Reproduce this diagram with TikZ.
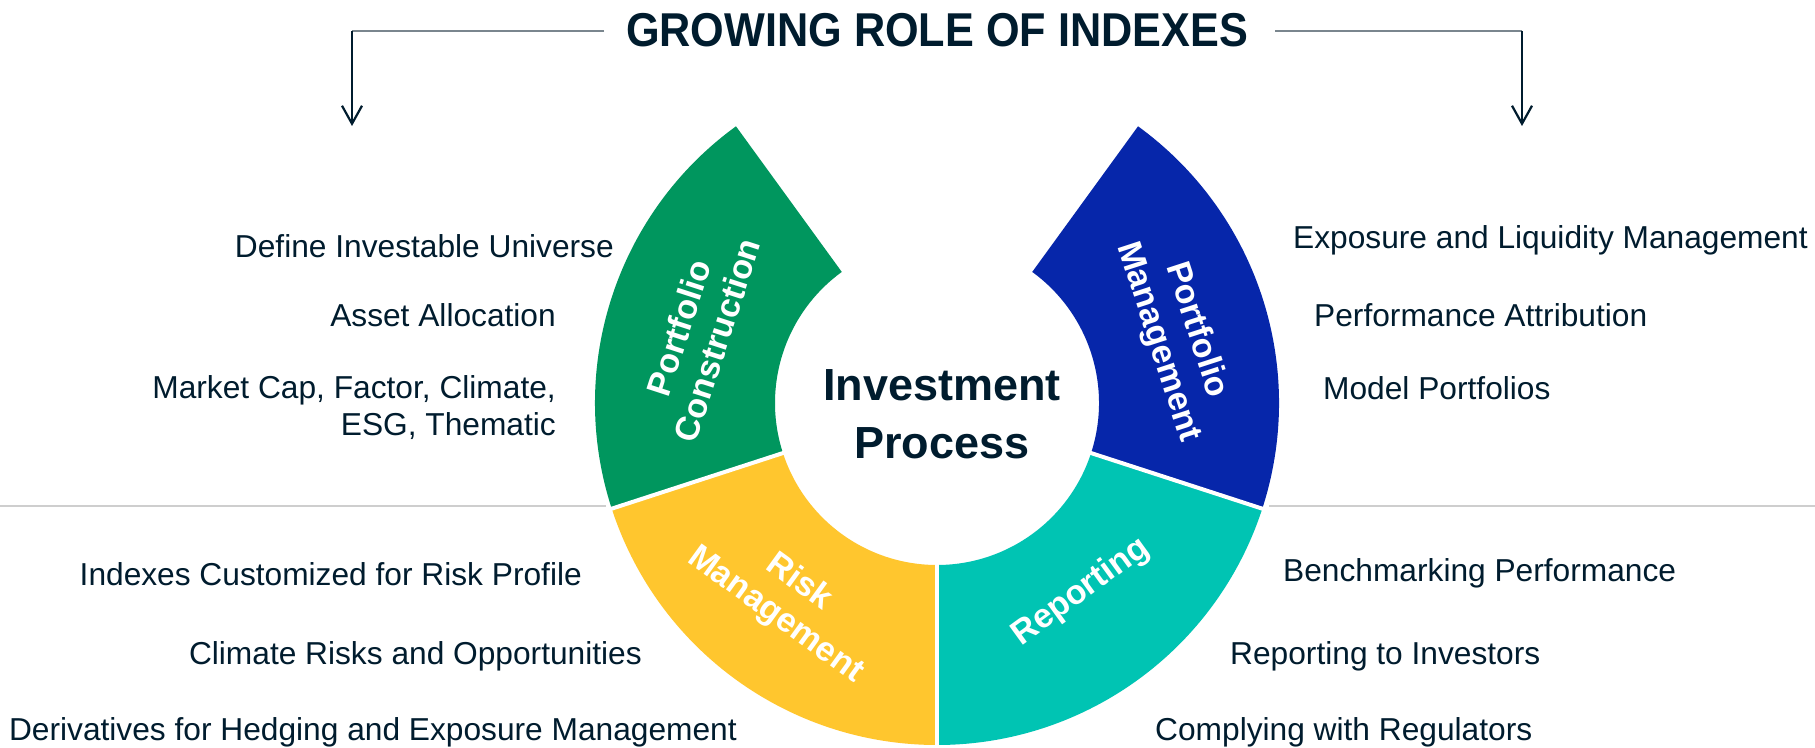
\documentclass[tikz,border=0pt]{standalone}
\usepackage{fontspec}
\usepackage{graphicx}
\setmainfont{Liberation Sans}
\usetikzlibrary{arrows.meta}
\definecolor{navy}{RGB}{0,28,46}
\definecolor{pcgreen}{RGB}{0,150,94}
\definecolor{rmyellow}{RGB}{255,198,46}
\definecolor{rpteal}{RGB}{0,196,179}
\definecolor{pmblue}{RGB}{6,38,170}
\definecolor{brgray}{RGB}{122,134,142}
\definecolor{sepgray}{RGB}{206,206,206}
\newcommand\ringseg[3]{\fill[#1] ([shift={(#2:162pt)}]C) arc[start angle=#2,end angle=#3,radius=162pt] -- ([shift={(#3:342pt)}]C) arc[start angle=#3,end angle=#2,radius=342pt] -- cycle;}
\newcommand\ringcut[1]{\draw[white,line width=4pt] ([shift={(#1:158pt)}]C) -- ([shift={(#1:346pt)}]C);}
\begin{document}
\begin{tikzpicture}[x=1pt,y=1pt,
  item/.style={font=\fontsize{31.7}{38}\selectfont, text=navy, inner sep=0pt},
  litem/.style={item, anchor=base east},
  ritem/.style={item, anchor=base west},
  seglabel/.style={font=\bfseries\fontsize{34}{40}\selectfont, text=white, align=center, inner sep=0pt},
  bracket/.style={draw=brgray, line width=2.5pt},
  downarrow/.style={draw=navy, line width=2.2pt, -{Straight Barb[length=18pt,width=20pt]}},
  sepline/.style={draw=sepgray, line width=2pt}]
\useasboundingbox (0,0) rectangle (1815,747);
\fill[white] (0,0) rectangle (1815,747);

% title and bracket
\node[font=\bfseries\fontsize{47.5}{50}\selectfont, text=navy, anchor=base, inner sep=0pt] (title) at (937,700) {\scalebox{0.91}[1]{GROWING ROLE OF INDEXES}};
\coordinate (lc) at (352,716);
\coordinate (le) at (604,716);
\coordinate (lt) at (352,621);
\coordinate (rc) at (1522,716);
\coordinate (re) at (1275,716);
\coordinate (rt) at (1522,621);
\draw[bracket] (le) -- (lc);
\draw[bracket] (re) -- (rc);
\draw[downarrow] (lc) -- (lt);
\draw[downarrow] (rc) -- (rt);

% separators
\coordinate (sl0) at (0,241);
\coordinate (sl1) at (606,241);
\coordinate (sr0) at (1269,241);
\coordinate (sr1) at (1815,241);
\draw[sepline] (sl0) -- (sl1);
\draw[sepline] (sr0) -- (sr1);

% ring
\coordinate (C) at (937,344);
\ringseg{pcgreen}{126}{198}
\ringseg{rmyellow}{198}{270}
\ringseg{rpteal}{270}{342}
\ringseg{pmblue}{-18}{54}
\ringcut{198}
\ringcut{270}
\ringcut{342}

\node[seglabel, rotate=72] (pc) at (698,413) {Portfolio\\Construction};
\node[seglabel, rotate=-72] (pm) at (1177,411) {Portfolio\\Management};
\node[seglabel, rotate=-36] (rm) at (787,148) {Risk\\Management};
\node[seglabel, rotate=36] (rp) at (1081,155) {Reporting};

\node[font=\bfseries\fontsize{45}{58}\selectfont, text=navy, align=center, inner sep=0pt] (ip) at (942,332.5) {Investment\\Process};

% left items
\node[litem] (t1) at (614,489) {Define Investable Universe};
\node[litem] (t2) at (556,420) {Asset Allocation};
\node[litem] (t3) at (556,348) {Market Cap, Factor, Climate,};
\node[litem] (t4) at (556,311) {ESG, Thematic};
\node[litem] (t5) at (582,161) {Indexes Customized for Risk Profile};
\node[litem] (t6) at (642,82) {Climate Risks and Opportunities};
\node[litem] (t7) at (737,7) {Derivatives for Hedging and Exposure Management};

% right items
\node[ritem] (u1) at (1293,498) {Exposure and Liquidity Management};
\node[ritem] (u2) at (1314,420) {Performance Attribution};
\node[ritem] (u3) at (1323,347) {Model Portfolios};
\node[ritem] (u4) at (1283,165) {Benchmarking Performance};
\node[ritem] (u5) at (1230,82) {Reporting to Investors};
\node[ritem] (u6) at (1155,7) {Complying with Regulators};
\end{tikzpicture}
\end{document}
